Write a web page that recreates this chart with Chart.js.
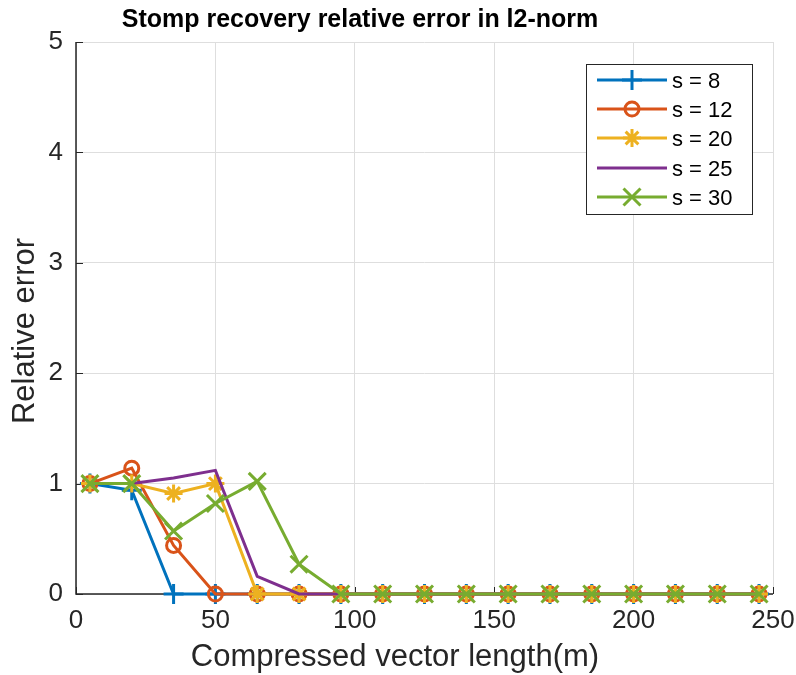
<!DOCTYPE html>
<html>
<head>
<meta charset="utf-8">
<script src="https://cdn.jsdelivr.net/npm/chart.js@4.4.1/dist/chart.umd.min.js"></script>
<style>
html, body { margin: 0; padding: 0; background: #fff; }
</style>
</head>
<body>
<canvas id="chart" width="796" height="675"></canvas>
<script>
const lengths = [5, 20, 35, 50, 65, 80, 95, 110, 125, 140, 155, 170, 185, 200, 215, 230, 245]
const s8 = [1, 0.94, 0, 0, 0, 0, 0, 0, 0, 0, 0, 0, 0, 0, 0, 0, 0]
const s12 = [1, 1.14, 0.44, 0, 0, 0, 0, 0, 0, 0, 0, 0, 0, 0, 0, 0, 0]
const s20 = [1, 1, 0.91, 1, 0, 0, 0, 0, 0, 0, 0, 0, 0, 0, 0, 0, 0]
const s25 = [1, 1, 1.05, 1.12, 0.16, 0, 0, 0, 0, 0, 0, 0, 0, 0, 0, 0, 0]
const s30 = [1, 1, 0.57, 0.82, 1.02, 0.27, 0, 0, 0, 0, 0, 0, 0, 0, 0, 0, 0]
const seriesNames = ["s = 8", "s = 12", "s = 20", "s = 25", "s = 30"]
const xTicks = [0, 50, 100, 150, 200, 250]
const yTicks = [0, 1, 2, 3, 4, 5]

const FONT = "'Liberation Sans', Arial, Helvetica, sans-serif"
const TXT = "#262626"

function series(vals, name, color, style, radius, order) {
    return {
        label: name,
        data: lengths.map((x, i) => ({ x: x, y: vals[i] })),
        borderColor: color,
        backgroundColor: color,
        borderWidth: 3,
        pointStyle: style,
        pointRadius: radius,
        pointHoverRadius: radius,
        pointBorderWidth: 3,
        pointBorderColor: color,
        pointBackgroundColor: style === "circle" ? "rgba(0,0,0,0)" : color,
        tension: 0,
        clip: false,
        order: order
    }
}

/* frame: left + bottom axis with inward ticks, titles, legend */
const framePlugin = {
    id: "frame",
    beforeDatasetsDraw(chart) {
        const { ctx, chartArea: a, scales } = chart
        ctx.save()
        ctx.strokeStyle = TXT
        ctx.lineWidth = 1.5
        ctx.beginPath()
        ctx.moveTo(a.left, a.top)
        ctx.lineTo(a.left, a.bottom)
        ctx.lineTo(a.right, a.bottom)
        ctx.stroke()
        ctx.lineWidth = 1
        ctx.beginPath()
        yTicks.forEach(v => {
            const y = Math.round(scales.y.getPixelForValue(v)) + 0.5
            ctx.moveTo(a.left, y)
            ctx.lineTo(a.left + 7, y)
        })
        xTicks.forEach(v => {
            const x = Math.round(scales.x.getPixelForValue(v)) + 0.5
            ctx.moveTo(x, a.bottom)
            ctx.lineTo(x, a.bottom - 7)
        })
        ctx.stroke()
        ctx.restore()
    },
    afterDraw(chart) {
        const { ctx } = chart
        ctx.save()
        ctx.fillStyle = "#000"
        ctx.textAlign = "center"
        ctx.textBaseline = "middle"
        ctx.font = "bold 25px " + FONT
        ctx.fillText("Stomp recovery relative error in l2-norm", 360, 20)

        ctx.fillStyle = TXT
        ctx.font = "31px " + FONT
        ctx.fillText("Compressed vector length(m)", 395, 657)
        ctx.translate(25, 331)
        ctx.rotate(-Math.PI / 2)
        ctx.fillText("Relative error", 0, 0)
        ctx.restore()

        // legend box
        ctx.save()
        ctx.fillStyle = "#fff"
        ctx.fillRect(586, 64, 166, 150)
        ctx.strokeStyle = TXT
        ctx.lineWidth = 1
        ctx.strokeRect(586.5, 64.5, 166, 150)
        const rows = [80, 109, 138, 168, 197]
        chart.data.datasets.forEach((ds, i) => {
            const y = rows[i]
            ctx.strokeStyle = ds.borderColor
            ctx.lineWidth = 3
            ctx.beginPath()
            ctx.moveTo(597, y)
            ctx.lineTo(667, y)
            ctx.stroke()
            if (ds.pointRadius > 0) {
                ctx.fillStyle = ds.pointBackgroundColor
                ctx.strokeStyle = ds.borderColor
                ctx.lineWidth = 3
                Chart.helpers.drawPoint(ctx, { pointStyle: ds.pointStyle, radius: ds.pointRadius, rotation: 0, borderWidth: 3 }, 632, y)
            }
            ctx.fillStyle = "#000"
            ctx.font = "22px " + FONT
            ctx.textAlign = "left"
            ctx.textBaseline = "middle"
            ctx.fillText(ds.label, 672, y + 1.5)
        })
        ctx.restore()
    }
}

new Chart(document.getElementById("chart"), {
    type: "line",
    data: {
        datasets: [
            series(s8, seriesNames[0], "#0072BD", "cross", 10, 5),
            series(s12, seriesNames[1], "#D95319", "circle", 7, 4),
            series(s20, seriesNames[2], "#EDB120", "star", 9, 3),
            series(s25, seriesNames[3], "#7E2F8E", "circle", 0, 2),
            series(s30, seriesNames[4], "#77AC30", "crossRot", 12, 1)
        ]
    },
    options: {
        responsive: false,
        animation: false,
        layout: { padding: { top: 42, right: 23, left: 0, bottom: 0 } },
        plugins: {
            legend: { display: false },
            title: { display: false },
            tooltip: { enabled: false }
        },
        scales: {
            x: {
                type: "linear",
                min: 0,
                max: 250,
                afterBuildTicks: s => { s.ticks = xTicks.map(v => ({ value: v })) },
                afterFit: s => { s.height = 81; s.paddingLeft = 0; s.paddingRight = 0 },
                grid: { color: "#dedede", lineWidth: 1, drawTicks: false },
                border: { display: false },
                ticks: { color: TXT, font: { family: FONT, size: 26 }, padding: 11, maxRotation: 0 }
            },
            y: {
                min: 0,
                max: 5,
                afterBuildTicks: s => { s.ticks = yTicks.map(v => ({ value: v })) },
                afterFit: s => { s.width = 76; s.paddingTop = 0; s.paddingBottom = 0 },
                grid: { color: "#dedede", lineWidth: 1, drawTicks: false },
                border: { display: false },
                ticks: { color: TXT, font: { family: FONT, size: 26 }, padding: 13 }
            }
        }
    },
    plugins: [framePlugin]
})
</script>
</body>
</html>
